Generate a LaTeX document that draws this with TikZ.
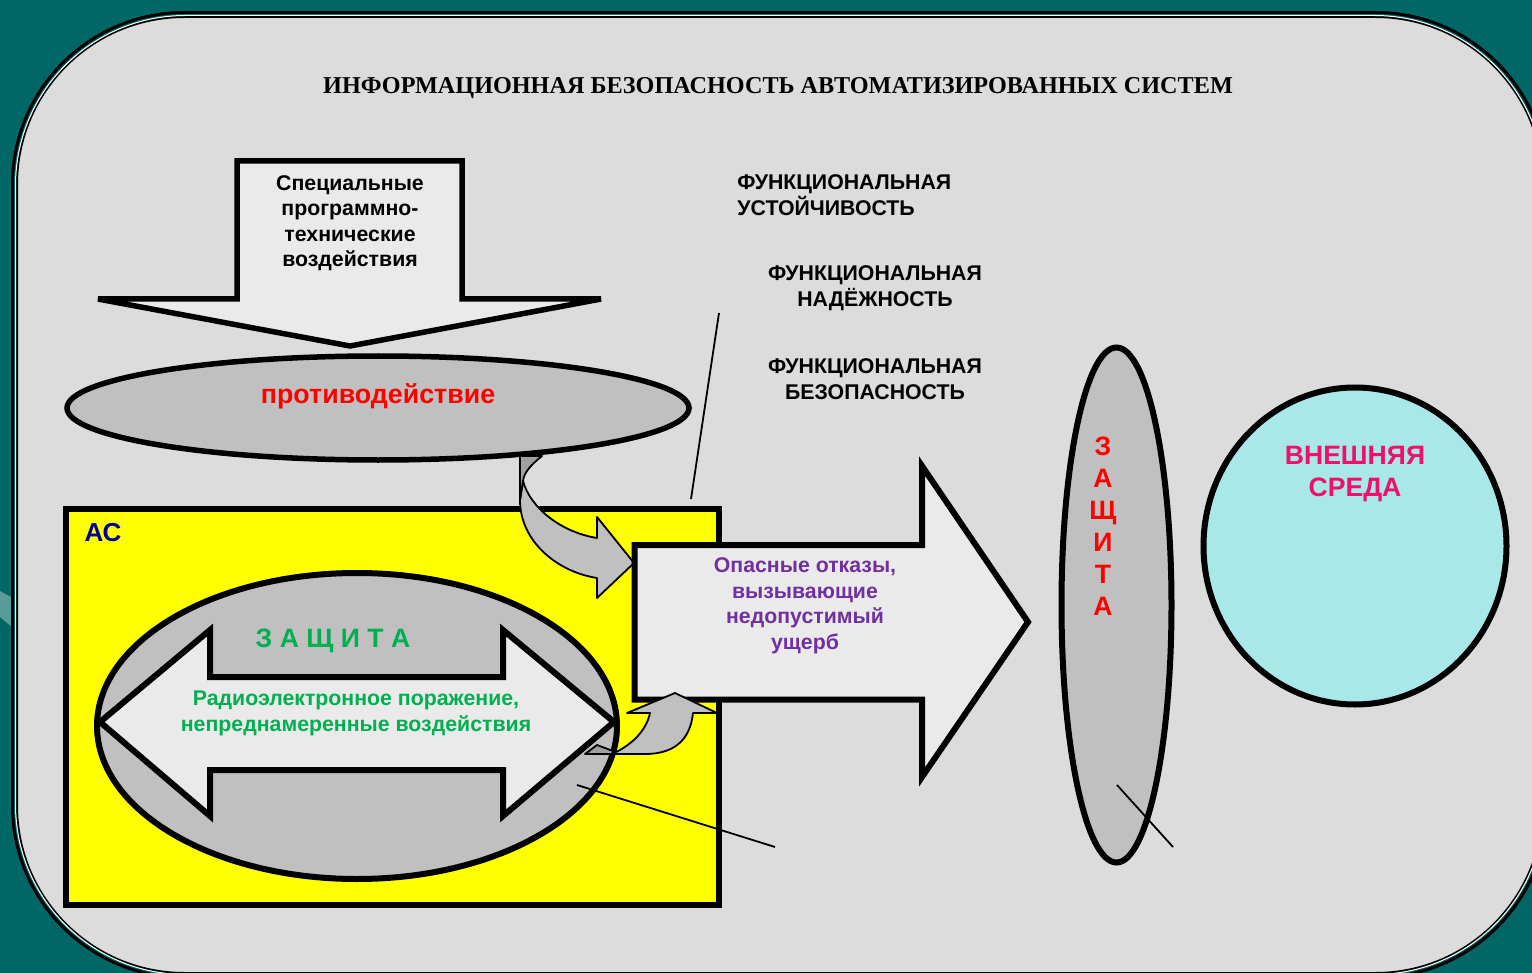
\documentclass[tikz,border=0pt]{standalone}
\usepackage{fontspec}
\setmainfont{Liberation Sans}
\newfontfamily\serifbold{Liberation Serif}
\usetikzlibrary{shapes.geometric}

\definecolor{bgteal}{HTML}{006666}
\definecolor{panel}{HTML}{DCDCDC}
\definecolor{lightfill}{HTML}{EAEAEA}
\definecolor{midgray}{HTML}{C0C0C0}
\definecolor{foldgray}{HTML}{A0A0A0}
\definecolor{paleaqua}{HTML}{A8E8E8}
\definecolor{hotpink}{HTML}{F0106A}
\definecolor{grassgreen}{HTML}{00B050}
\definecolor{violet}{HTML}{7030A0}
\definecolor{navy}{HTML}{000099}
\definecolor{pureyellow}{RGB}{255,255,0}

\begin{document}
\begin{tikzpicture}[x=0.5pt,y=-0.5pt,
  shapeline/.style={draw=black, line width=2.75pt, line join=miter},
  lead/.style={draw=black, line width=0.9pt},
  ribbon/.style={draw=black, line width=0.9pt, line join=round},
  oval/.style={ellipse, shapeline, inner sep=0pt, outer sep=0pt},
  lbl/.style={font=\bfseries\fontsize{10.65}{12.75}\selectfont, align=center, inner sep=0pt},
  big/.style={font=\bfseries\fontsize{13.3}{16}\selectfont, align=center, inner sep=0pt},
]
\useasboundingbox (0,0) rectangle (1532,973);

% background and framed panel
\fill[bgteal] (0,0) rectangle (1532,973);
\fill[white, opacity=0.35] (0,591) -- (13,598) -- (13,628) -- (0,617) -- cycle;
\path[fill=panel, draw=black, line width=3.5pt, rounded corners=85pt]
  (14.5,14.5) rectangle (1545.5,975.5);
\draw[bgteal, line width=1pt, rounded corners=85pt] (15,15) rectangle (1545,975);
\draw[white, line width=0.5pt, rounded corners=85pt] (15.5,15.5) rectangle (1544.5,974.5);

% title
\node[inner sep=0pt, font=\serifbold\bfseries\fontsize{12.1}{14}\selectfont] (title) at (778,88)
  {ИНФОРМАЦИОННАЯ БЕЗОПАСНОСТЬ АВТОМАТИЗИРОВАННЫХ СИСТЕМ};

% downward block arrow
\path[shapeline, fill=lightfill] (237,161) -- (462,161) -- (462,299) -- (601,299)
  -- (350,346) -- (98,299) -- (237,299) -- cycle;
\node[lbl] (impact) at (350,223) {Специальные\\программно-\\технические\\воздействия};

% automated system box
\node[draw, line width=3pt, fill=pureyellow, minimum width=326.25pt, minimum height=198pt,
      inner sep=0pt, outer sep=0pt] (as) at (392.25,706.5) {};
\node[inner sep=0pt, text=navy, font=\bfseries\fontsize{13}{15}\selectfont] (astext) at (103,533) {АС};

% curved arrow from counteraction to the failures arrow
\path[ribbon, fill=midgray] (523,481) .. controls (530,507) and (560,532) .. (597,538)
  -- (597,517) -- (634,563) -- (597,598) -- (597,578)
  .. controls (558,572) and (520,542) .. (520,500) -- cycle;
\path[ribbon, fill=foldgray] (520,456) -- (542,456) .. controls (532,464) and (524,472) .. (523,481)
  -- (520,500) -- cycle;

% counteraction ellipse
\node[oval, fill=midgray, minimum width=311pt, minimum height=52pt] (counter) at (378,408) {};
\node[inner sep=0pt, text=red, font=\bfseries\fontsize{13.4}{15}\selectfont] (countertext) at (378,396) {противодействие};

% protection ellipse with double arrow
\node[oval, line width=3pt, fill=midgray, minimum width=260pt, minimum height=153pt] (inner) at (357,726) {};
\path[shapeline, line width=3pt, fill=lightfill] (100,722) -- (210,630) -- (210,677) -- (503,677)
  -- (503,630) -- (614,722) -- (503,816) -- (503,770) -- (210,770) -- (210,816) -- cycle;
\node[inner sep=0pt, text=grassgreen, font=\bfseries\fontsize{13.3}{15}\selectfont] (zash) at (333,641) {З А Щ И Т А};
\node[lbl, text=grassgreen, font=\bfseries\fontsize{10.65}{13}\selectfont] (radio) at (356,713)
  {Радиоэлектронное поражение,\\непреднамеренные воздействия};

% failures arrow
\path[shapeline, line width=3pt, fill=lightfill] (634.5,545) -- (922,545) -- (922,466) -- (1028,622)
  -- (922,777) -- (922,699.5) -- (634.5,699.5) -- cycle;
\node[lbl, text=violet] (fail) at (805,606) {Опасные отказы,\\вызывающие\\недопустимый\\ущерб};

% curved arrow from the inner ellipse up into the failures arrow
\path[ribbon, fill=midgray] (650,713) -- (627,713) -- (675,693) -- (717,713) -- (693,713)
  .. controls (690,742) and (672,754) .. (645,754) -- (612,754)
  .. controls (630,746) and (646,732) .. (650,713) -- cycle;
\path[ribbon, fill=foldgray] (585,754) -- (597,745) -- (613,751) -- (612,754) -- cycle;

% outer protection
\node[oval, line width=3pt, fill=midgray, minimum width=55pt, minimum height=257.5pt] (shield) at (1116.5,605) {};
\node[big, text=red] (shieldtext) at (1103,526) {З\\А\\Щ\\И\\Т\\А};

% environment
\node[oval, line width=3pt, fill=paleaqua, minimum width=151.5pt, minimum height=158.5pt] (env) at (1355,546) {};
\node[big, text=hotpink] (envtext) at (1355,474) {ВНЕШНЯЯ\\СРЕДА};

% functional properties
\node[lbl, anchor=west, align=left] (stab) at (737,195) {ФУНКЦИОНАЛЬНАЯ\\УСТОЙЧИВОСТЬ};
\node[lbl] (rel) at (875,288) {ФУНКЦИОНАЛЬНАЯ\\НАДЁЖНОСТЬ};
\node[lbl] (safe) at (875,379) {ФУНКЦИОНАЛЬНАЯ\\БЕЗОПАСНОСТЬ};

% leader lines
\coordinate (lead1a) at (719,313);
\coordinate (lead1b) at (691,499);
\coordinate (lead2a) at (577,785);
\coordinate (lead2b) at (775,847);
\coordinate (lead3a) at (1117,785);
\coordinate (lead3b) at (1173,847);
\draw[lead] (lead1a) -- (lead1b);
\draw[lead] (lead2a) -- (lead2b);
\draw[lead] (lead3a) -- (lead3b);
\end{tikzpicture}
\end{document}
